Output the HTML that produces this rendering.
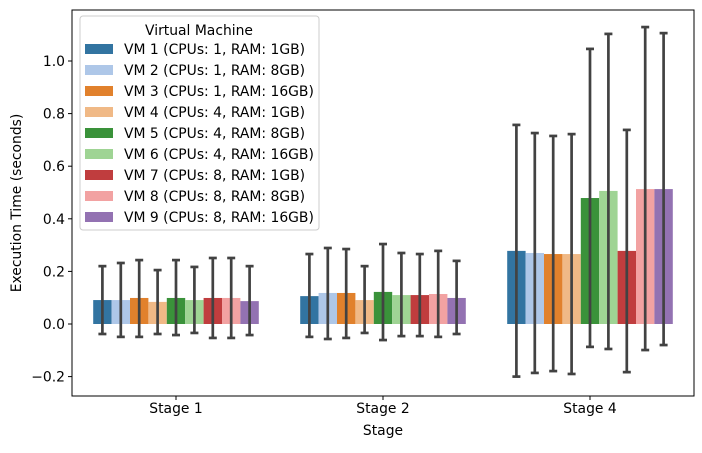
<!DOCTYPE html>
<html><head><meta charset="utf-8"><style>body{margin:0;background:#fff}svg{font-family:"DejaVu Sans","Liberation Sans",sans-serif}</style></head>
<body>
<svg id="c" width="702" height="448"></svg>
<script>
const stages=["Stage 1","Stage 2","Stage 4"];
const vms=["VM 1 (CPUs: 1, RAM: 1GB)","VM 2 (CPUs: 1, RAM: 8GB)","VM 3 (CPUs: 1, RAM: 16GB)","VM 4 (CPUs: 4, RAM: 1GB)","VM 5 (CPUs: 4, RAM: 8GB)","VM 6 (CPUs: 4, RAM: 16GB)","VM 7 (CPUs: 8, RAM: 1GB)","VM 8 (CPUs: 8, RAM: 8GB)","VM 9 (CPUs: 8, RAM: 16GB)"];
const colors=["#3274a1","#aec7e8","#e1812c","#f0b986","#3a923a","#9fd494","#c03d3e","#f2a2a2","#9372b2"];
const means=[[0.091,0.091,0.099,0.084,0.099,0.091,0.099,0.099,0.087],[0.106,0.118,0.118,0.091,0.122,0.110,0.110,0.114,0.099],[0.278,0.270,0.266,0.266,0.479,0.506,0.278,0.513,0.513]];
const errHi=[[0.22,0.232,0.243,0.205,0.243,0.217,0.251,0.251,0.22],[0.266,0.289,0.285,0.22,0.304,0.27,0.266,0.278,0.24],[0.757,0.726,0.715,0.722,1.046,1.103,0.738,1.129,1.106]];
const errLo=[[-0.038,-0.049,-0.049,-0.038,-0.042,-0.034,-0.053,-0.053,-0.042],[-0.049,-0.057,-0.053,-0.034,-0.061,-0.046,-0.046,-0.049,-0.038],[-0.2,-0.186,-0.179,-0.19,-0.087,-0.095,-0.183,-0.099,-0.08]];
const yTicks=[-0.2,0.0,0.2,0.4,0.6,0.8,1.0];
const NS="http://www.w3.org/2000/svg",svg=document.getElementById('c');
const L=72,R=694,T=10,B=396;
const FS=13.9;
const y=v=>324-v*263;
const x=i=>176+i*207;
function el(t,a,p){const e=document.createElementNS(NS,t);for(const k in a)e.setAttribute(k,a[k]);(p||svg).appendChild(e);return e;}
const bw=207*0.8/9;
stages.forEach((s,si)=>{
 vms.forEach((v,vi)=>{
  const bx=x(si)-207*0.4+vi*bw;
  const r=el('rect',{x:bx,y:Math.min(y(means[si][vi]),y(0)),width:bw,height:Math.abs(y(0)-y(means[si][vi])),fill:colors[vi]});
  
  
 });
});
stages.forEach((s,si)=>{
 vms.forEach((v,vi)=>{
  const cx=x(si)-207*0.4+(vi+0.5)*bw;
  const g=el('g',{stroke:'#424242','stroke-width':2.7});
  
  
  el('line',{x1:cx,x2:cx,y1:y(errHi[si][vi]),y2:y(errLo[si][vi])},g);
  el('line',{x1:cx-4,x2:cx+4,y1:y(errHi[si][vi]),y2:y(errHi[si][vi])},g);
  el('line',{x1:cx-4,x2:cx+4,y1:y(errLo[si][vi]),y2:y(errLo[si][vi])},g);
 });
 el('line',{x1:x(si),x2:x(si),y1:B,y2:B+4,stroke:'#000'});
 const tl=el('text',{x:x(si),y:B+17,'font-size':FS,'text-anchor':'middle'});tl.textContent=s;
 
});
yTicks.forEach(v=>{
 el('line',{x1:L-4,x2:L,y1:y(v),y2:y(v),stroke:'#000'});
 const t=el('text',{x:L-7,y:y(v)+5,'font-size':FS,'text-anchor':'end'});t.textContent=(v<0?'\u2212':'')+Math.abs(v).toFixed(1);
 
});
el('rect',{x:L,y:T,width:R-L,height:B-T,fill:'none',stroke:'#000','stroke-width':1});
let xl=el('text',{x:383,y:435,'font-size':FS,'text-anchor':'middle'});xl.textContent='Stage';

let yl=el('text',{x:0,y:0,'font-size':FS,'text-anchor':'middle',transform:'translate(21,203) rotate(-90)'});yl.textContent='Execution Time (seconds)';

const lg=el('g',{});

el('rect',{x:80,y:16,width:239,height:214,rx:3,fill:'#fff','fill-opacity':0.8,stroke:'#ccc'},lg);
let lt=el('text',{x:199,y:35,'font-size':FS,'text-anchor':'middle'},lg);lt.textContent='Virtual Machine';
vms.forEach((v,i)=>{
 const ry=48+i*21;
 const p=el('rect',{x:85,y:ry-4,width:28,height:10,fill:colors[i]},lg);
 
 const t=el('text',{x:124,y:ry+6,'font-size':FS},lg);t.textContent=v;
 
});
</script>
</body></html>
